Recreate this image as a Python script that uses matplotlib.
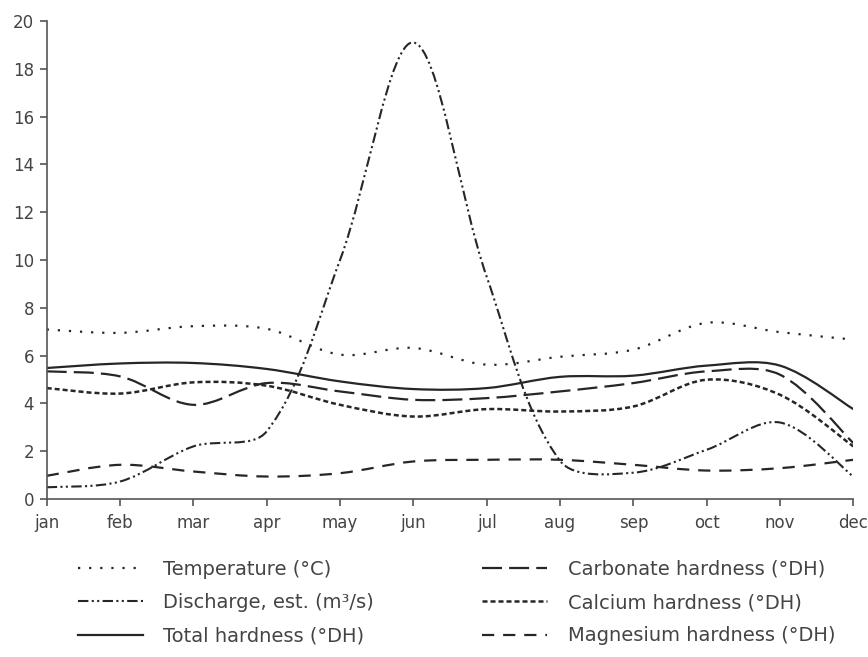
import numpy as np
import matplotlib.pyplot as plt
from matplotlib.path import Path
from matplotlib.patches import PathPatch
from matplotlib.lines import Line2D

months = ['jan', 'feb', 'mar', 'apr', 'may', 'jun', 'jul', 'aug', 'sep', 'oct', 'nov', 'dec']

temperature = [7.09, 6.95, 7.23, 7.12, 6.04, 6.32, 5.62, 5.95, 6.25, 7.37, 6.98, 6.67]
discharge = [0.49, 0.73, 2.20, 2.83, 10.0, 19.1, 9.3, 1.6, 1.10, 2.06, 3.20, 0.94]
total_hardness = [5.48, 5.67, 5.69, 5.44, 4.92, 4.60, 4.64, 5.11, 5.16, 5.58, 5.58, 3.76]
carbonate_hardness = [5.34, 5.13, 3.94, 4.85, 4.50, 4.15, 4.22, 4.50, 4.85, 5.34, 5.20, 2.34]
calcium_hardness = [4.64, 4.41, 4.88, 4.74, 3.94, 3.45, 3.76, 3.66, 3.87, 4.99, 4.36, 2.20]
magnesium_hardness = [0.97, 1.43, 1.15, 0.94, 1.08, 1.57, 1.64, 1.64, 1.43, 1.19, 1.29, 1.64]

labels = ['Temperature (°C)', 'Discharge, est. (m³/s)', 'Total hardness (°DH)',
          'Carbonate hardness (°DH)', 'Calcium hardness (°DH)', 'Magnesium hardness (°DH)']

ink = '#262626'
grey = '#555555'

styles = [
    dict(ls=(0, (1, 4)), lw=1.6),
    dict(ls=(0, (5, 1.6, 1, 1.6, 1, 1.6)), lw=1.5),
    dict(ls='-', lw=1.6),
    dict(ls=(0, (9, 3.2)), lw=1.6),
    dict(ls=(0, (2, 1.2)), lw=1.8),
    dict(ls=(0, (5.5, 4)), lw=1.6),
]

# rough pixel size of one month / one unit, used to weight the curve handles
px_x, px_y = 73.3, 23.8


def smooth_path(y):
    # bezier through the monthly points, like a "smoothed line" chart
    x = np.arange(len(y), dtype=float)
    pts = np.column_stack([x, np.asarray(y, dtype=float)])
    scale = np.array([px_x, px_y])
    n = len(pts)

    def seglen(a, b):
        return np.hypot(*((pts[b] - pts[a]) * scale))

    verts = [pts[0]]
    codes = [Path.MOVETO]
    for i in range(n - 1):
        p0, p1, p2 = max(i - 1, 0), i, i + 1
        p3 = min(i + 2, n - 1)
        d01, d12, d23 = seglen(p0, p1), seglen(p1, p2), seglen(p2, p3)
        w1 = d12 / (d01 + d12) / 3 if p0 != p1 else 1 / 6
        w2 = d12 / (d12 + d23) / 3 if p3 != p2 else 1 / 6
        c1 = pts[p1] + (pts[p2] - pts[p0]) * w1
        c2 = pts[p2] - (pts[p3] - pts[p1]) * w2
        verts += [c1, c2, pts[p2]]
        codes += [Path.CURVE4] * 3
    return Path(verts, codes)


fig = plt.figure(figsize=(8.68, 6.57), dpi=100)
ax = fig.add_axes([0.0538, 0.2405, 0.9293, 0.7276])

series = [temperature, discharge, total_hardness, carbonate_hardness, calcium_hardness, magnesium_hardness]
handles = []
for data, st, lab in zip(series, styles, labels):
    ax.add_patch(PathPatch(smooth_path(data), fill=False, edgecolor=ink,
                           linestyle=st['ls'], linewidth=st['lw'], capstyle='butt'))
    handles.append(Line2D([], [], color=ink, linestyle=st['ls'], linewidth=st['lw'], label=lab))

ax.set_xlim(0, len(months) - 1)
ax.set_ylim(0, 20)
ax.set_xticks(range(len(months)))
ax.set_xticklabels(months)
ax.set_yticks(range(0, 21, 2))

for s in ['top', 'right']:
    ax.spines[s].set_visible(False)
for s in ['left', 'bottom']:
    ax.spines[s].set_color(grey)
    ax.spines[s].set_linewidth(1.2)
ax.tick_params(axis='both', direction='out', length=5, width=1.2, color=grey,
               labelsize=12, labelcolor='#444444', pad=4)
ax.tick_params(axis='x', pad=6)

leg_kw = dict(loc='upper left', frameon=False, fontsize=14, labelcolor='#444444',
              handlelength=3.35, handletextpad=1.05, labelspacing=0.74, borderpad=0)
fig.legend(handles=handles[:3], bbox_to_anchor=(0.0785, 0.163), **leg_kw)
fig.legend(handles=handles[3:], bbox_to_anchor=(0.5445, 0.163), **leg_kw)

fig.savefig('out.png', dpi=100, facecolor='white')
